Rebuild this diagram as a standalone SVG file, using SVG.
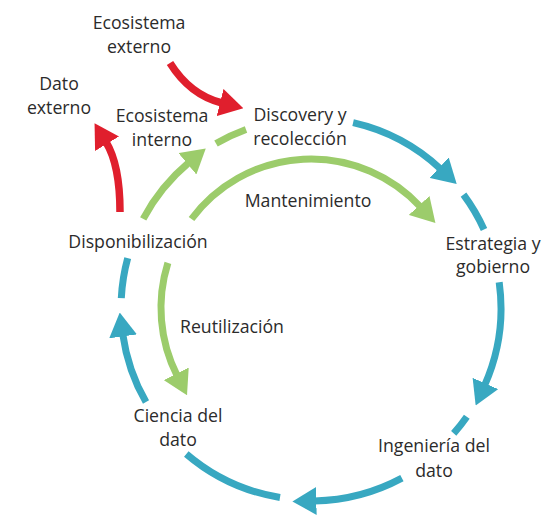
<svg xmlns="http://www.w3.org/2000/svg" width="554" height="530" viewBox="0 0 554 530">
<style>
.t{font-family:"Open Sans","Noto Sans","DejaVu Sans",sans-serif;font-size:17.7px;fill:#2b2b2b;text-anchor:middle}
.b{fill:none;stroke:#38a8c1;stroke-width:7}
.g{fill:none;stroke:#9ccc6b;stroke-width:7}
.r{fill:none;stroke:#e01f2d;stroke-width:7.5}
</style>
<defs>
<marker id="mb" viewBox="0 0 24 28" refX="2" refY="14" markerWidth="24" markerHeight="28" orient="auto" markerUnits="userSpaceOnUse"><path d="M0,0 L24,14 L0,28 Z" fill="#38a8c1"/></marker>
<marker id="mg" viewBox="0 0 24 28" refX="2" refY="14" markerWidth="24" markerHeight="28" orient="auto" markerUnits="userSpaceOnUse"><path d="M0,0 L24,14 L0,28 Z" fill="#9ccc6b"/></marker>
<marker id="mr" viewBox="0 0 24 28" refX="2" refY="14" markerWidth="24" markerHeight="28" orient="auto" markerUnits="userSpaceOnUse"><path d="M0,0 L24,14 L0,28 Z" fill="#e01f2d"/></marker>
</defs>
<rect width="554" height="530" fill="#fff"/>
<g id="connectors">
<path class="b" d="M353.1,122.7 A190,190 0 0 1 440.6,169.0" marker-end="url(#mb)"/>
<path class="b" d="M463.5,194.7 A190,190 0 0 1 484.0,229.5"/>
<path class="b" d="M499.2,282.2 A190,190 0 0 1 484.6,385.3" marker-end="url(#mb)"/>
<path class="b" d="M466.8,416.7 A190,190 0 0 1 453.7,433.4"/>
<path class="b" d="M401.9,478.2 A192,192 0 0 1 314.4,501.0" marker-end="url(#mb)"/>
<path class="b" d="M280.0,497.5 A192,192 0 0 1 186.3,454.0"/>
<path class="b" d="M146.0,402.1 A190,190 0 0 1 122.8,334.4" marker-end="url(#mb)"/>
<path class="b" d="M121.3,298.1 A190,190 0 0 1 127.7,258.2"/>
<path class="g" d="M143.2,218.8 A190,190 0 0 1 188.9,162.5" marker-end="url(#mg)"/>
<path class="g" d="M216,143.5 A190,190 0 0 1 246.0,129.5"/>
<path class="g" d="M191.5,219.0 A149,149 0 0 1 420.5,206.9" marker-end="url(#mg)"/>
<path class="g" d="M167.9,262.9 A150,150 0 0 0 177.1,375.6" marker-end="url(#mg)"/>
<path class="r" d="M170,63 Q190,95 222,103" marker-end="url(#mr)"/>
<path class="r" d="M120,212 Q120,165 106,142" marker-end="url(#mr)"/>
</g>
<g id="ecosistema-externo"><text class="t" x="139" y="29">Ecosistema</text><text class="t" x="139" y="53">externo</text></g>
<g id="dato-externo"><text class="t" x="59" y="90">Dato</text><text class="t" x="59" y="114">externo</text></g>
<g id="ecosistema-interno"><text class="t" x="162" y="122">Ecosistema</text><text class="t" x="162" y="146">interno</text></g>
<g id="discovery"><text class="t" x="300" y="121">Discovery y</text><text class="t" x="300" y="145">recolección</text></g>
<g id="mantenimiento"><text class="t" x="308" y="207">Mantenimiento</text></g>
<g id="estrategia"><text class="t" x="493" y="250">Estrategia y</text><text class="t" x="493" y="273">gobierno</text></g>
<g id="disponibilizacion"><text class="t" x="138" y="248">Disponibilización</text></g>
<g id="reutilizacion"><text class="t" x="232" y="333">Reutilización</text></g>
<g id="ciencia"><text class="t" x="178" y="422">Ciencia del</text><text class="t" x="178" y="446">dato</text></g>
<g id="ingenieria"><text class="t" x="434" y="452">Ingeniería del</text><text class="t" x="434" y="477">dato</text></g>
</svg>
